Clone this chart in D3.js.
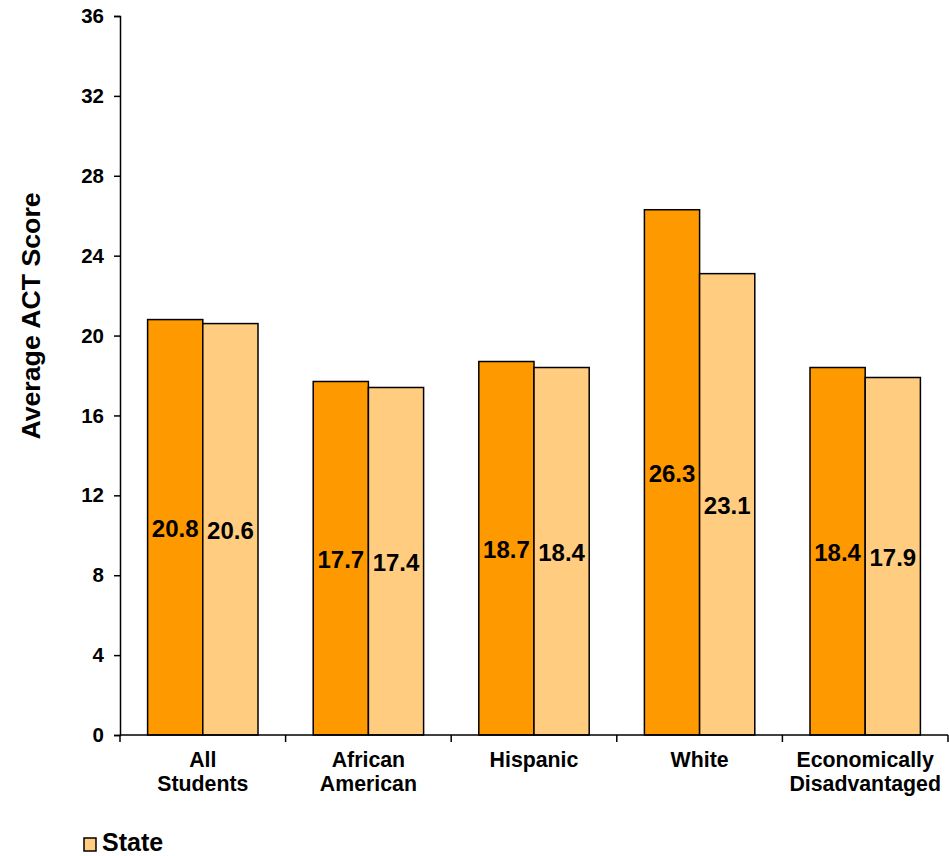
<!DOCTYPE html>
<html>
<head>
<meta charset="utf-8">
<script src="https://cdn.jsdelivr.net/npm/d3@7"></script>
<style>
  html, body { margin: 0; padding: 0; background: #fff; }
  svg { display: block; font-family: "Liberation Sans", Arial, sans-serif; font-weight: bold; }
</style>
</head>
<body>
<svg id="chart" width="949" height="856"></svg>
<script>
const categories = [["All", "Students"], ["African", "American"], ["Hispanic"], ["White"], ["Economically", "Disadvantaged"]];
const campusValues = [20.8, 17.7, 18.7, 26.3, 18.4];
const stateValues = [20.6, 17.4, 18.4, 23.1, 17.9];
const seriesNames = ["Campus", "State"];
const seriesColors = ["#FF9900", "#FFCC80"];
const yTicks = [0, 4, 8, 12, 16, 20, 24, 28, 32, 36];

(function () {
const svg = d3.select("#chart");
const mLeft = 120, mRight = 948, mTop = 16, mBottom = 735;

const x = d3.scaleBand().domain(d3.range(categories.length)).range([mLeft, mRight]).paddingInner(0).paddingOuter(0);
const y = d3.scaleLinear().domain([0, 36]).range([mBottom, mTop]);
const barW = x.bandwidth() / 3;

const series = [campusValues, stateValues];
const g = svg.append("g");

series.forEach((vals, si) => {
  g.selectAll(null).data(vals).enter().append("rect")
    .attr("x", (d, i) => x(i) + x.bandwidth() / 2 - barW + si * barW)
    .attr("y", d => y(d))
    .attr("width", barW)
    .attr("height", d => y(0) - y(d))
    .attr("fill", seriesColors[si])
    .attr("stroke", "#000")
    .attr("stroke-width", 1.5);
});

series.forEach((vals, si) => {
  g.selectAll(null).data(vals).enter().append("text")
    .attr("x", (d, i) => x(i) + x.bandwidth() / 2 - barW + si * barW + barW / 2)
    .attr("y", d => y(d / 2))
    .attr("dy", "0.42em")
    .attr("text-anchor", "middle")
    .attr("font-size", 24)
    .attr("fill", "#000")
    .text(d => d.toFixed(1));
});

// Y axis
const yAxis = d3.axisLeft(y).tickValues(yTicks).tickSize(6).tickPadding(10);
const ya = svg.append("g").attr("transform", `translate(${mLeft},0)`).call(yAxis);
ya.select(".domain").attr("stroke-width", 1.5);
ya.selectAll(".tick line").attr("stroke-width", 1.5);
ya.selectAll("text").attr("font-size", 20.5).attr("font-weight", "bold").attr("font-family", "Liberation Sans, Arial, sans-serif");

// X axis baseline and ticks
svg.append("line").attr("x1", mLeft).attr("x2", mRight).attr("y1", mBottom).attr("y2", mBottom).attr("stroke", "#000").attr("stroke-width", 1.5);
const bounds = d3.range(categories.length + 1).map(i => i < categories.length ? x(i) : mRight);
svg.selectAll(null).data(bounds).enter().append("line")
  .attr("x1", d => d).attr("x2", d => d).attr("y1", mBottom).attr("y2", mBottom + 7)
  .attr("stroke", "#000").attr("stroke-width", 1.5);

// Category labels
categories.forEach((lines, i) => {
  const t = svg.append("text").attr("text-anchor", "middle").attr("font-size", 21.3)
    .attr("x", x(i) + x.bandwidth() / 2).attr("y", 767);
  lines.forEach((ln, k) => t.append("tspan").attr("x", x(i) + x.bandwidth() / 2).attr("dy", k === 0 ? 0 : 24).text(ln));
});

// Y axis title
svg.append("text").attr("transform", "translate(40,316) rotate(-90)").attr("text-anchor", "middle")
  .attr("font-size", 26.7).text("Average ACT Score");

// Legend (State entry visible)
svg.append("rect").attr("x", 84).attr("y", 838).attr("width", 12).attr("height", 13)
  .attr("fill", seriesColors[1]).attr("stroke", "#000").attr("stroke-width", 1.5);
svg.append("text").attr("x", 102).attr("y", 851).attr("font-size", 25).text(seriesNames[1]);
})();
</script>
</body>
</html>
